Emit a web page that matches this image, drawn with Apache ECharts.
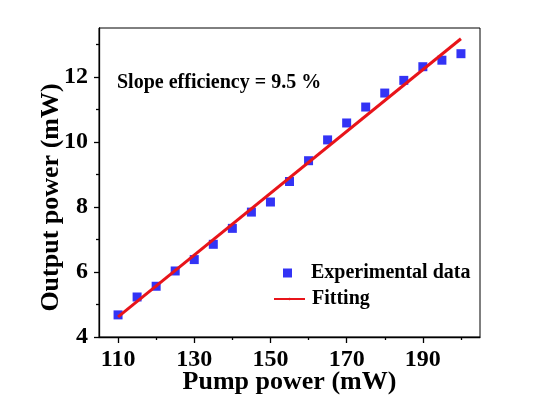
<!DOCTYPE html>
<html>
<head>
<meta charset="utf-8">
<script src="https://cdn.jsdelivr.net/npm/echarts@6/dist/echarts.min.js"></script>
<style>html,body{margin:0;padding:0;background:#fff;}#c{width:544px;height:405px;}</style>
</head>
<body>
<div id="c"></div>
<script>
// Data
const pumpPower = [110,115,120,125,130,135,140,145,150,155,160,165,170,175,180,185,190,195,200];
const outputPower = [4.68,5.23,5.56,6.03,6.38,6.85,7.34,7.84,8.15,8.78,9.42,10.06,10.58,11.07,11.50,11.89,12.31,12.51,12.71];
const fitX = [110, 200];
const fitY = [4.62, 13.17];
const xMajorTicks = [110,130,150,170,190];
const xMinorTicks = [120,140,160,180,200];
const yMajorTicks = [4,6,8,10,12];
const yMinorTicks = [5,7,9,11,13];

const FONT = '"Liberation Serif", "Times New Roman", serif';
const chart = echarts.init(document.getElementById('c'), null, {renderer: 'canvas'});
const axisCommon = {
  type: 'value',
  splitLine: {show: false},
  axisLine: {show: true, onZero: false, lineStyle: {color: '#000', width: 1.3}},
};
chart.setOption({
  backgroundColor: '#fff',
  animation: false,
  grid: {left: 99, right: 64, top: 28, bottom: 68, show: true, borderColor: '#000', borderWidth: 1,
         backgroundColor: 'transparent', containLabel: false, outerBoundsMode: 'none'},
  title: {
    text: 'Slope efficiency = 9.5 %', left: 112, top: 68,
    textStyle: {fontFamily: FONT, fontWeight: 'bold', fontSize: 20, color: '#000'}
  },
  legend: [{
    data: ['Experimental data'], left: 283, top: 263, padding: 0, icon: 'rect', itemWidth: 9, itemHeight: 9,
    selectedMode: false, itemGap: 0,
    textStyle: {fontFamily: FONT, fontWeight: 'bold', fontSize: 20, color: '#000', padding: [0,0,0,14]}
  }, {
    data: ['Fitting'], left: 273, top: 289, padding: 0, itemWidth: 31, itemHeight: 3,
    selectedMode: false,
    textStyle: {fontFamily: FONT, fontWeight: 'bold', fontSize: 20, color: '#000', padding: [0,0,0,2]}
  }],
  xAxis: [Object.assign({}, axisCommon, {
    min: 105, max: 205, position: 'bottom',
    name: 'Pump power (mW)', nameLocation: 'middle', nameGap: 32, nameMoveOverlap: false,
    nameTextStyle: {fontFamily: FONT, fontWeight: 'bold', fontSize: 26, color: '#000'},
    axisTick: {show: true, length: 6, customValues: xMajorTicks, lineStyle: {color: '#000', width: 1.3}},
    axisLabel: {customValues: xMajorTicks, margin: 11, fontFamily: FONT, fontWeight: 'bold', fontSize: 24, color: '#000'}
  }), Object.assign({}, axisCommon, {
    min: 105, max: 205, position: 'bottom', offset: 0,
    axisLine: {show: false},
    axisTick: {show: true, length: 3, customValues: xMinorTicks, lineStyle: {color: '#000', width: 1.3}},
    axisLabel: {show: false}
  })],
  yAxis: [Object.assign({}, axisCommon, {
    min: 4, max: 13.5, position: 'left',
    name: 'Output power (mW)', nameLocation: 'middle', nameGap: 35, nameMoveOverlap: false,
    nameTextStyle: {fontFamily: FONT, fontWeight: 'bold', fontSize: 26, color: '#000', padding: [0,30,0,0]},
    axisTick: {show: true, length: 5, customValues: yMajorTicks, lineStyle: {color: '#000', width: 1.3}},
    axisLabel: {customValues: yMajorTicks, margin: 11, fontFamily: FONT, fontWeight: 'bold', fontSize: 24, color: '#000'}
  }), Object.assign({}, axisCommon, {
    min: 4, max: 13.5, position: 'left', offset: 0,
    axisLine: {show: false},
    axisTick: {show: true, length: 3, customValues: yMinorTicks, lineStyle: {color: '#000', width: 1.3}},
    axisLabel: {show: false}
  })],
  series: [{
    name: 'Experimental data', type: 'scatter', symbol: 'rect', symbolSize: 9,
    itemStyle: {color: '#0000f2'},
    data: pumpPower.map((x, i) => [x, outputPower[i]]), z: 3
  }, {
    name: 'Fitting', type: 'line', symbol: 'none',
    lineStyle: {color: '#e8141a', width: 3}, itemStyle: {color: '#e8141a'},
    data: fitX.map((x, i) => [x, fitY[i]]), z: 4
  }]
});
</script>
</body>
</html>
